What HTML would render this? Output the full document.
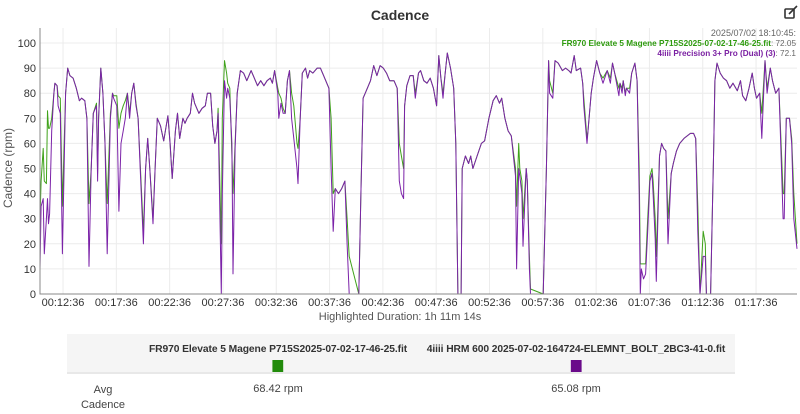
<!DOCTYPE html>
<html><head><meta charset="utf-8">
<style>
body{margin:0;width:800px;height:414px;background:#fff;font-family:"Liberation Sans",sans-serif;overflow:hidden;position:relative}
svg text{font-family:"Liberation Sans",sans-serif}
.tbl{position:absolute;left:67px;top:334px;width:668px;font-size:11px;color:#333}
.hdr{background:#f5f5f5;height:38px;border-bottom:2px solid #e8e8e8;position:relative}
.h{position:absolute;top:9px;font-weight:bold;font-size:10.5px;transform:translateX(-50%) scaleX(0.98);white-space:nowrap;text-align:center;letter-spacing:-0.1px}
.sq{width:11px;height:12px;margin:5px auto 0}
.v{position:absolute;font-size:11px;transform:translateX(-50%);text-align:center;color:#444}
</style></head><body>
<svg id="chart" width="800" height="330" style="position:absolute;left:0;top:0">
<text x="400" y="20" text-anchor="middle" font-size="14" font-weight="bold" fill="#333">Cadence</text>
<g stroke="#333" fill="none" stroke-width="1.6">
<rect x="785" y="9" width="9" height="9" rx="1"/><path d="M789 14 L797 6"/></g>
<g id="grid"></g><g id="series"></g><g id="axes"></g>
<text x="796" y="36" text-anchor="end" font-size="9" fill="#666">2025/07/02 18:10:45:</text>
<text x="796" y="46" text-anchor="end" font-size="8.2"><tspan fill="#2e9b0e" font-weight="bold">FR970 Elevate 5 Magene P715S2025-07-02-17-46-25.fit</tspan><tspan fill="#666">: 72.05</tspan></text>
<text x="796" y="56" text-anchor="end" font-size="8.2"><tspan fill="#7a1fa2" font-weight="bold">4iiii Precision 3+ Pro (Dual) (3)</tspan><tspan fill="#666">: 72.1</tspan></text>
<text x="12" y="168" text-anchor="middle" font-size="12" fill="#555" transform="rotate(-90 12 168)">Cadence (rpm)</text>
<text x="400" y="320" text-anchor="middle" font-size="11" fill="#555">Highlighted Duration: 1h 11m 14s</text>
</svg>
<div class="tbl">
<div class="hdr">
<div class="h" style="left:211px">FR970 Elevate 5 Magene P715S2025-07-02-17-46-25.fit<div class="sq" style="background:#228b0b"></div></div>
<div class="h" style="left:509px">4iiii HRM 600 2025-07-02-164724-ELEMNT_BOLT_2BC3-41-0.fit<div class="sq" style="background:#6a0a8a"></div></div>
</div>
<div class="v" style="left:36px;top:49px;line-height:15px">Avg<br>Cadence</div>
<div class="v" style="left:211px;top:49px">68.42 rpm</div>
<div class="v" style="left:509px;top:49px">65.08 rpm</div>
</div>
<script>
const times=[0,0.1,0.3,0.4,0.6,0.7,0.8,0.9,1.1,1.3,1.4,1.6,1.7,1.9,2.1,2.4,2.6,2.8,3.1,3.4,3.7,3.9,4.2,4.4,4.6,4.8,5.0,5.3,5.4,5.5,5.7,5.9,6.1,6.3,6.6,6.8,6.9,7.2,7.4,7.6,7.8,8.0,8.2,8.4,8.6,8.8,9.0,9.2,9.4,9.7,9.9,10.1,10.3,10.6,10.8,11.0,11.3,11.6,11.8,12.0,12.2,12.4,12.7,12.9,13.1,13.4,13.6,13.8,14.1,14.3,14.5,14.9,15.2,15.5,15.7,16.0,16.2,16.4,16.6,16.7,17.0,17.1,17.3,17.5,17.6,17.8,18.0,18.1,18.3,18.5,18.8,19.1,19.4,19.8,20.1,20.4,20.7,21.0,21.3,21.6,21.8,22.0,22.3,22.4,22.6,22.8,23.0,23.2,23.4,23.6,23.8,24.1,24.2,24.4,24.6,24.9,25.1,25.3,25.6,26.0,26.3,26.6,26.9,27.1,27.3,27.5,27.7,28.0,28.3,28.6,28.8,29.0,29.9,30.1,30.3,30.6,31.0,31.3,31.6,31.9,32.2,32.5,32.8,33.2,33.5,33.7,33.9,34.1,34.2,34.4,34.7,35.0,35.2,35.5,35.7,36.0,36.3,36.6,36.9,37.2,37.4,37.6,37.8,38.0,38.2,38.5,38.8,39.0,39.2,39.5,39.6,39.9,40.2,40.4,40.6,41.0,41.4,41.7,42.1,42.5,42.8,43.1,43.3,43.6,43.9,44.2,44.6,44.7,44.9,45.0,45.2,45.3,45.6,45.7,45.9,46.0,47.2,47.5,47.7,47.8,48.1,48.3,48.6,49.0,49.3,49.6,49.8,50.1,50.3,50.7,50.9,51.0,51.3,51.4,51.7,51.9,52.2,52.5,52.8,53.2,53.5,53.7,53.9,54.3,54.4,54.6,54.7,54.9,55.0,55.3,55.5,55.8,56.0,56.2,56.3,56.4,56.6,56.8,57.0,57.2,57.4,57.5,57.7,57.8,58.1,58.3,58.5,58.7,58.9,59.2,59.4,59.7,60.0,60.4,60.7,61.0,61.3,61.5,61.7,61.9,62.2,62.4,62.5,62.9,63.2,63.3,63.5,63.8,64.1,64.4,64.7,65.0,65.4,65.7,65.9,66.2,66.5,66.8,67.0,67.2,67.5,67.7,68.0,68.2,68.5,68.7,69.0,69.3,69.4,69.7,69.8,70.0,70.3,70.5,70.7,71.0];
const purpleCadence=[10,35,38,16,30,38,28,32,65,80,84,83,75,72,16,80,90,87,86,82,77,78,77,70,11,50,72,75,45,70,90,80,60,16,70,80,78,75,33,60,65,70,80,70,80,84,75,70,50,20,50,62,50,28,50,70,67,61,66,71,60,46,65,72,62,70,68,70,72,80,76,72,74,75,80,80,67,60,65,72,0,40,85,78,82,78,60,8,58,80,89,88,85,89,86,83,85,83,85,86,84,89,80,70,76,72,72,85,89,70,62,50,44,70,88,90,86,89,88,90,90,87,84,82,50,25,42,40,42,45,20,0,0,40,78,81,85,91,87,91,90,88,85,85,82,45,40,38,75,83,87,87,78,88,89,85,84,86,82,75,95,86,78,88,96,90,82,60,0,0,50,55,52,55,50,55,60,61,70,77,79,76,78,70,65,63,47,10,50,47,40,19,50,45,10,0,0,50,93,80,78,93,92,89,90,89,88,95,89,90,84,75,60,65,80,86,93,88,84,89,84,92,88,79,84,80,85,79,82,80,88,92,85,40,0,10,6,8,25,45,48,40,22,5,55,60,58,57,20,48,52,57,60,62,63,64,64,62,25,0,15,15,0,0,60,85,92,88,86,85,82,84,81,85,79,77,82,88,82,78,80,62,93,80,90,85,80,82,70,30,30,70,70,60,30,18];
const greenCadence=[30,45,58,45,44,73,66,66,70,80,84,83,79,78,35,80,90,87,86,82,77,78,77,70,36,50,72,76,48,70,90,80,60,36,72,80,79,79,66,72,75,77,80,72,80,84,76,70,52,25,50,62,50,30,50,70,67,61,66,71,60,46,65,72,62,70,68,70,72,80,76,72,74,75,80,80,67,60,65,74,20,70,93,88,84,82,55,40,60,80,89,88,85,89,86,83,85,83,85,86,84,89,82,80,78,74,72,85,89,80,75,60,58,70,88,90,86,89,88,90,90,87,84,82,70,40,42,40,42,45,30,15,0,40,78,81,85,91,87,91,90,88,85,85,82,60,55,50,75,83,87,87,80,88,89,85,84,86,82,75,95,86,80,88,96,90,82,60,0,0,50,55,52,55,50,55,60,61,70,77,79,76,78,70,65,63,50,35,60,50,45,30,50,45,15,2,0,50,93,85,80,93,92,89,90,89,88,95,89,90,84,78,62,65,80,86,93,88,86,89,86,92,88,82,84,82,85,80,82,82,88,92,85,50,12,12,12,12,30,47,50,45,30,15,55,60,58,57,30,48,52,57,60,62,63,64,64,62,35,0,25,20,0,0,60,85,92,88,86,85,82,84,81,85,79,77,82,88,82,78,80,72,93,82,90,85,80,82,72,40,40,70,70,62,40,20];
const yTicks=[0,10,20,30,40,50,60,70,80,90,100];
const xTickMinutes=[2.16,7.16,12.16,17.16,22.16,27.16,32.16,37.16,42.16,47.16,52.16,57.16,62.16,67.16];
const xTickLabels=["00:12:36","00:17:36","00:22:36","00:27:36","00:32:36","00:37:36","00:42:36","00:47:36","00:52:36","00:57:36","01:02:36","01:07:36","01:12:36","01:17:36"];
const L=40,R=797,T=28,B=294,tMax=71.0;
const xs=t=>L+t/tMax*(R-L);
const ys=v=>B-v*2.51;
const NS="http://www.w3.org/2000/svg";
function mk(tag,at,parent){const e=document.createElementNS(NS,tag);for(const k in at)e.setAttribute(k,at[k]);parent.appendChild(e);return e;}
const grid=document.getElementById('grid'),axes=document.getElementById('axes'),ser=document.getElementById('series');
yTicks.forEach(v=>{
 const g=mk('line',{x1:L,x2:R,y1:ys(v),y2:ys(v),stroke:'#ececec'},grid);
 
 
 const t=mk('text',{x:L-4,y:ys(v)+4,'text-anchor':'end','font-size':11,fill:'#333'},axes);t.textContent=v;
 
 
});
xTickMinutes.forEach((m,i)=>{
 const g=mk('line',{x1:xs(m),x2:xs(m),y1:T,y2:B,stroke:'#ececec'},grid);
 
 
 const t=mk('text',{x:xs(m),y:B+12,'text-anchor':'middle','font-size':11,fill:'#333'},axes);t.textContent=xTickLabels[i];
 
 
});
const ax=mk('path',{d:`M${L} ${T} V${B} H${R}`,stroke:'#888',fill:'none'},axes);


function line(vals,color,name){
 const d=vals.map((v,i)=>(i?'L':'M')+xs(times[i]).toFixed(1)+' '+ys(v).toFixed(1)).join(' ');
 const p=mk('path',{d:d,stroke:color,fill:'none','stroke-width':1,'stroke-linejoin':'round'},ser);
 
 
}
line(greenCadence,'#3fa21a','green-series-line');
line(purpleCadence,'#7b22a8','purple-series-line');
</script>
</body></html>
